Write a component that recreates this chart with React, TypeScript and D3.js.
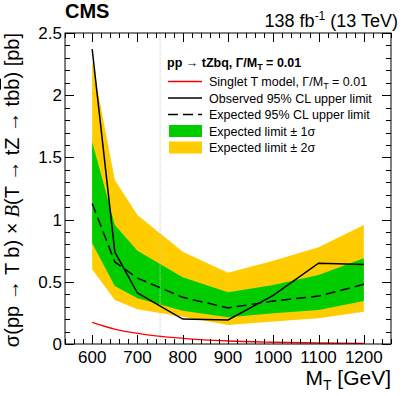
import React, { useEffect, useRef } from 'react';
import * as d3 from 'd3';

// limits on sigma x B vs M_T (GeV)
const masses = [600, 650, 700, 800, 900, 1000, 1100, 1200];
const observed = [2.37, 0.74, 0.41, 0.2, 0.193, 0.39, 0.65, 0.64];
const expected = [1.13, 0.66, 0.53, 0.375, 0.29, 0.345, 0.385, 0.48];
const sigma1Lo = [0.81, 0.466, 0.367, 0.268, 0.215, 0.247, 0.273, 0.346];
const sigma1Hi = [1.626, 0.957, 0.75, 0.536, 0.415, 0.474, 0.555, 0.689];
const sigma2Lo = [0.6, 0.354, 0.279, 0.22, 0.153, 0.18, 0.206, 0.26];
const sigma2Hi = [2.27, 1.318, 1.037, 0.742, 0.573, 0.67, 0.777, 0.957];
const theory = [0.174, 0.12, 0.086, 0.046, 0.024, 0.014, 0.008, 0.005];

const xTicks = [600, 700, 800, 900, 1000, 1100, 1200];
const yTicks = [0, 0.5, 1, 1.5, 2, 2.5];
const markerMass = 750;

const legendItems = [
  { label: 'Singlet T model', kind: 'red' },
  { label: 'Observed 95% CL upper limit', kind: 'obs' },
  { label: 'Expected 95% CL upper limit', kind: 'exp' },
  { label: 'Expected limit \u00b1 1\u03c3', kind: 'green' },
  { label: 'Expected limit \u00b1 2\u03c3', kind: 'yellow' },
];

const FONT = '"Liberation Sans", Arial, Helvetica, sans-serif';

const App = () => {
  const ref = useRef<SVGSVGElement | null>(null);

  useEffect(() => {
    const svg = d3.select(ref.current);
    svg.selectAll('*').remove();

    const left = 65, right = 391, top = 33, bottom = 344;
    const x = d3.scaleLinear().domain([540, 1260]).range([left, right]);
    const y = d3.scaleLinear().domain([0, 2.5]).range([bottom, top]);

    const idx = d3.range(masses.length);

    const band = (lo: number[], hi: number[]) =>
      d3.area<number>().x(i => x(masses[i])).y0(i => y(lo[i])).y1(i => y(hi[i]))(idx);
    const line = (v: number[]) => d3.line<number>().x(i => x(masses[i])).y(i => y(v[i]))(idx);

    svg.append('path').attr('d', band(sigma2Lo, sigma2Hi)).attr('fill', '#ffcc00');
    svg.append('path').attr('d', band(sigma1Lo, sigma1Hi)).attr('fill', '#00cc00');

    // dotted marker line
    svg.append('line')
      .attr('x1', x(markerMass)).attr('x2', x(markerMass))
      .attr('y1', top).attr('y2', bottom)
      .attr('stroke', '#c8c8c8').attr('stroke-width', 1).attr('stroke-dasharray', '1,1');

    svg.append('path')
      .attr('d', d3.line<number>().curve(d3.curveMonotoneX).x(i => x(masses[i])).y(i => y(theory[i]))(idx))
      .attr('fill', 'none').attr('stroke', '#ff0000').attr('stroke-width', 1.3);
    svg.append('path').attr('d', line(expected))
      .attr('fill', 'none').attr('stroke', '#000').attr('stroke-width', 1.5).attr('stroke-dasharray', '10,5');
    svg.append('path').attr('d', line(observed))
      .attr('fill', 'none').attr('stroke', '#000').attr('stroke-width', 1.5);

    // frame
    svg.append('rect')
      .attr('x', left).attr('y', top).attr('width', right - left).attr('height', bottom - top)
      .attr('fill', 'none').attr('stroke', '#000').attr('stroke-width', 1);

    // ticks, ROOT style, pointing inward on all four sides
    const tk = svg.append('g').attr('stroke', '#000').attr('stroke-width', 1);
    d3.range(540, 1261, 20).forEach(m => {
      const len = m % 100 === 0 ? 9 : 5;
      const px = Math.round(x(m)) + 0.5;
      tk.append('line').attr('x1', px).attr('x2', px).attr('y1', bottom).attr('y2', bottom - len);
      tk.append('line').attr('x1', px).attr('x2', px).attr('y1', top).attr('y2', top + len);
    });
    d3.range(0, 26).forEach(k => {
      const v = k / 10;
      const len = k % 5 === 0 ? 9 : 5;
      const py = Math.round(y(v)) + 0.5;
      tk.append('line').attr('x1', left).attr('x2', left + len).attr('y1', py).attr('y2', py);
      tk.append('line').attr('x1', right).attr('x2', right - len).attr('y1', py).attr('y2', py);
    });

    const txt = svg.append('g').attr('font-family', FONT).attr('fill', '#000');

    xTicks.forEach(m => {
      txt.append('text').attr('x', x(m)).attr('y', 363).attr('text-anchor', 'middle')
        .attr('font-size', 17).text(m);
    });
    yTicks.forEach(v => {
      txt.append('text').attr('x', 62).attr('y', y(v) + 6).attr('text-anchor', 'end')
        .attr('font-size', 17).text(d3.format('~g')(v));
    });

    // x title
    const xt = txt.append('text').attr('x', right).attr('y', 385).attr('text-anchor', 'end').attr('font-size', 21);
    xt.append('tspan').text('M');
    xt.append('tspan').attr('font-size', 14).attr('dy', 5).text('T');
    xt.append('tspan').attr('dy', -5).text(' [GeV]');

    // y title
    const yt = txt.append('text').attr('transform', `translate(19,${top}) rotate(-90)`)
      .attr('text-anchor', 'end').attr('font-size', 20);
    yt.append('tspan').text('\u03c3(pp \u2192 T b) \u00d7 ');
    yt.append('tspan').attr('font-family', '"Liberation Serif", serif').attr('font-style', 'italic').text('B');
    yt.append('tspan').text('(T \u2192 tZ \u2192 tb');
    yt.append('tspan').style('text-decoration', 'overline').text('b');
    yt.append('tspan').text(') [pb]');

    // header
    txt.append('text').attr('x', left).attr('y', 18).attr('font-size', 20).attr('font-weight', 'bold').text('CMS');
    const lumi = txt.append('text').attr('x', 398).attr('y', 27).attr('text-anchor', 'end').attr('font-size', 18);
    lumi.append('tspan').text('138 fb');
    lumi.append('tspan').attr('font-size', 12).attr('dy', -7).text('-1');
    lumi.append('tspan').attr('dy', 7).text(' (13 TeV)');

    // legend
    const lg = txt.append('g').attr('font-size', 12.5);
    const title = lg.append('text').attr('x', 167).attr('y', 67).attr('font-weight', 'bold');
    title.append('tspan').text('pp \u2192 tZbq, \u0393/M');
    title.append('tspan').attr('font-size', 9).attr('dy', 3).text('T');
    title.append('tspan').attr('dy', -3).text(' = 0.01');

    const rowY = (i: number) => 86 + i * 16.5;
    legendItems.forEach((item, i) => {
      const by = rowY(i);
      const t = lg.append('text').attr('x', 209).attr('y', by);
      t.append('tspan').text(item.label);
      if (item.kind === 'red') {
        t.append('tspan').text(', \u0393/M');
        t.append('tspan').attr('font-size', 9).attr('dy', 3).text('T');
        t.append('tspan').attr('dy', -3).text(' = 0.01');
      }
      const cy = by - 4.5;
      if (item.kind === 'green' || item.kind === 'yellow') {
        lg.append('rect').attr('x', 169).attr('y', cy - 6).attr('width', 33).attr('height', 12)
          .attr('fill', item.kind === 'green' ? '#00cc00' : '#ffcc00');
      } else {
        lg.append('line').attr('x1', 168).attr('x2', 202).attr('y1', cy).attr('y2', cy)
          .attr('stroke', item.kind === 'red' ? '#ff0000' : '#000')
          .attr('stroke-width', 1.3)
          .attr('stroke-dasharray', item.kind === 'exp' ? '10,5' : null);
      }
    });
  }, []);

  return (
    <svg ref={ref} width={407} height={396}
      style={{ position: 'absolute', left: 0, top: 0, background: '#fff' }} />
  );
};

export default App;
